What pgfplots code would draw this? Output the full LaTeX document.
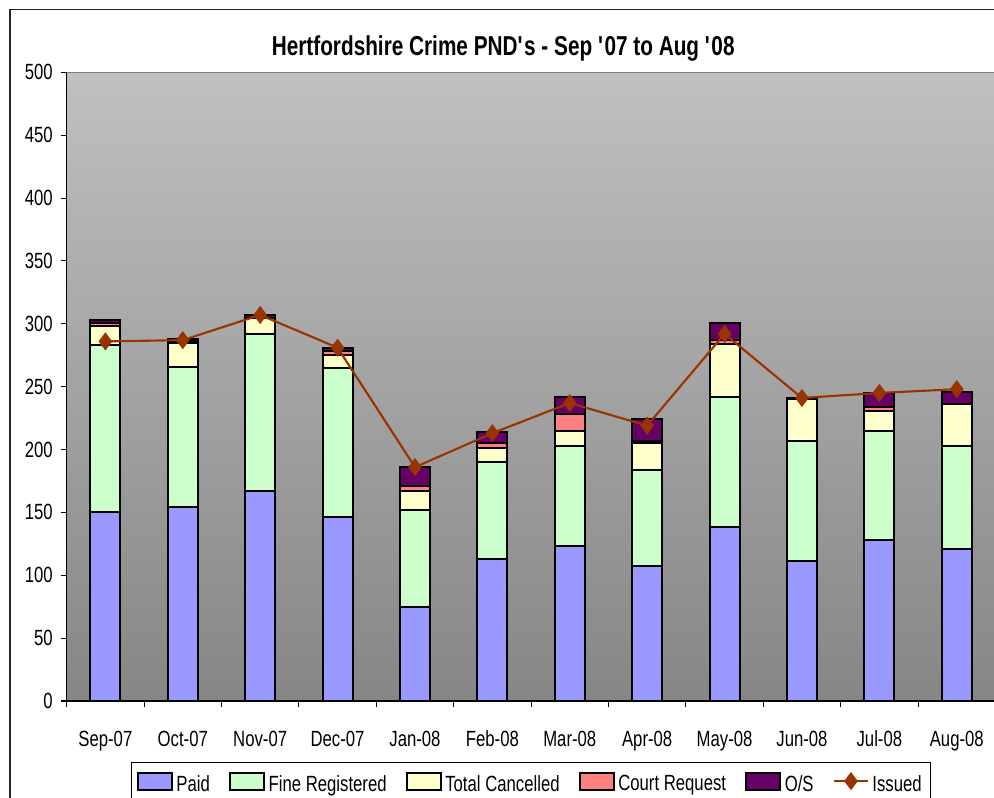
\documentclass[border=0pt]{standalone}
\usepackage{pgfplots}
\pgfplotsset{compat=1.18}
\usepackage{pgfplotstable}
\usepackage{fontspec}
\setmainfont{Liberation Sans}[FakeStretch=0.76]
\definecolor{cpaid}{RGB}{153,153,255}
\definecolor{cfine}{RGB}{204,255,204}
\definecolor{ccanc}{RGB}{255,255,204}
\definecolor{ccourt}{RGB}{255,128,128}
\definecolor{cos}{RGB}{102,0,102}
\definecolor{ciss}{RGB}{153,51,0}
\definecolor{bgtop}{RGB}{192,192,192}
\definecolor{bgbot}{RGB}{134,134,134}
\pgfplotstableread{
x paid fine canc court os issued
0 150 133 15 3 2 286
1 154 112 19 1 2 287
2 167 125 13 0 2 307
3 146 119 10 3 3 281
4 75 77 15 4 15 186
5 113 77 11 4 9 213
6 123 80 12 13 14 237
7 107 77 21 2 17 219
8 138 104 42 3 14 292
9 111 96 33 0 1 241
10 128 87 16 3 11 245
11 121 82 33 0 10 248
}\datatable
\pgfplotsset{
  common/.style={
    scale only axis, width=696.6pt, height=471.5pt,
    at={(50pt,72.75pt)}, anchor=south west,
    xmin=-0.5, xmax=11.5, ymin=0, ymax=500,
  },
  barleg/.style={legend image code/.code={\draw[##1, line width=1.5pt] (0pt,-4pt) rectangle (25.5pt,8.5pt);}},
  issleg/.style={legend image code/.code={\draw[##1, mark repeat=2, mark phase=2] plot coordinates {(0pt,2.3pt)(12.75pt,2.3pt)(25.5pt,2.3pt)};}},
  barst/.style={draw=black, line width=1.5pt, fill=#1},
}
\begin{document}
\begin{tikzpicture}
\useasboundingbox (0,0) rectangle (745.5pt,598.5pt);
\draw[line width=1.1pt, black!85] (7.5pt,-10pt) -- (7.5pt,591.5pt) -- (760pt,591.5pt);
\begin{axis}[common,
  ybar stacked, bar width=22.5pt,
  axis x line*=bottom, axis y line*=left,
  axis line style={-, black, line width=1pt},
  axis background/.style={shade, top color=bgtop, bottom color=bgbot, draw=gray},
  tick align=outside, major tick length=4.3pt,
  tick style={black, line width=0.8pt},
  ytick={0,50,...,500},
  xtick={-0.5,0.5,1.5,2.5,3.5,4.5,5.5,6.5,7.5,8.5,9.5,10.5,11.5},
  xticklabels={},
  extra x ticks={0,1,2,3,4,5,6,7,8,9,10,11},
  extra x tick labels={Sep-07,Oct-07,Nov-07,Dec-07,Jan-08,Feb-08,Mar-08,Apr-08,May-08,Jun-08,Jul-08,Aug-08},
  extra x tick style={major tick length=0pt},
  /pgf/number format/assume math mode=true,
  tick label style={font=\fontsize{16.5}{19}\selectfont},
  xticklabel style={anchor=base, yshift=-34.3pt},
  yticklabel style={anchor=east, inner sep=0pt, xshift=-6pt},
  title={Hertfordshire Crime PND\textquotesingle s - Sep \textquotesingle 07 to Aug \textquotesingle 08},
  title style={font=\fontsize{20.5}{24}\selectfont\bfseries, at={(0.4700,1.0135)}, anchor=base},
]
\addplot[barst=cpaid] table[x=x,y=paid]{\datatable};
\addplot[barst=cfine] table[x=x,y=fine]{\datatable};
\addplot[barst=ccanc] table[x=x,y=canc]{\datatable};
\addplot[barst=ccourt] table[x=x,y=court]{\datatable};
\addplot[barst=cos] table[x=x,y=os]{\datatable};
\end{axis}
\begin{axis}[common, hide axis,
  legend columns=6,
  legend style={at={(0.5,-0.0970)}, anchor=north, draw=black, line width=0.8pt, fill=white,
    font=\fontsize{16.5}{19}\selectfont, inner xsep=4pt, inner ysep=7pt,
    /tikz/every even column/.append style={column sep=12pt},
    nodes={inner xsep=2.5pt}},
]
\addlegendimage{barleg, fill=cpaid, draw=black}
\addlegendentry{Paid}
\addlegendimage{barleg, fill=cfine, draw=black}
\addlegendentry{Fine Registered}
\addlegendimage{barleg, fill=ccanc, draw=black}
\addlegendentry{Total Cancelled}
\addlegendimage{barleg, fill=ccourt, draw=black}
\addlegendentry{Court Request}
\addlegendimage{barleg, fill=cos, draw=black}
\addlegendentry{O/S}
\addplot[issleg, color=ciss, line width=1.6pt, mark=diamond*, mark size=5.5pt, mark options={fill=ciss, draw=ciss}]
  table[x=x,y=issued]{\datatable};
\addlegendentry{Issued}
\end{axis}
\end{tikzpicture}
\end{document}
